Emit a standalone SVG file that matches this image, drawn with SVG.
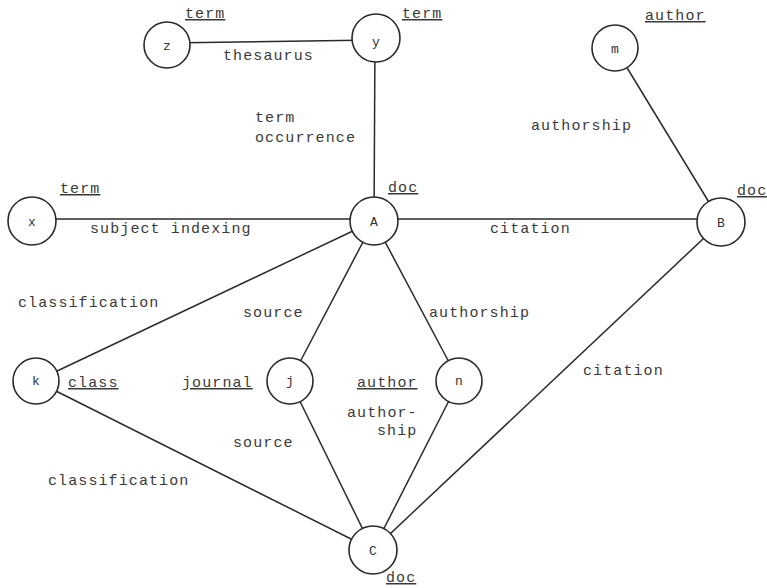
<svg xmlns="http://www.w3.org/2000/svg" width="767" height="588" viewBox="0 0 767 588">
<style>
.e{stroke:#2a2a2a;stroke-width:1.5;fill:none}
.n circle{fill:#fff;stroke:#2a2a2a;stroke-width:1.6}
.n text{font-family:"Liberation Mono","DejaVu Sans Mono",monospace;font-size:13px;fill:#333;text-anchor:middle}
.t{font-family:"Liberation Mono","DejaVu Sans Mono",monospace;font-size:15px;letter-spacing:1.1px;fill:#3a3a3a}
.u{text-decoration:underline}
</style>
<rect width="767" height="588" fill="#fff"/>
<g id="connectors">
<line class="e" x1="167" y1="43" x2="376" y2="40"/>
<line class="e" x1="375" y1="38" x2="374" y2="221"/>
<line class="e" x1="32" y1="219" x2="374" y2="219"/>
<line class="e" x1="374" y1="219" x2="721" y2="219"/>
<line class="e" x1="615" y1="48" x2="721" y2="222"/>
<line class="e" x1="374" y1="221" x2="36" y2="381"/>
<line class="e" x1="374" y1="221" x2="290" y2="381"/>
<line class="e" x1="374" y1="221" x2="459" y2="381"/>
<line class="e" x1="36" y1="381" x2="373" y2="550"/>
<line class="e" x1="290" y1="381" x2="373" y2="550"/>
<line class="e" x1="459" y1="381" x2="373" y2="550"/>
<line class="e" x1="721" y1="222" x2="373" y2="550"/>
</g>
<g id="node-z" class="n"><circle cx="167" cy="45" r="23"/><text x="167" y="50">z</text></g>
<g id="node-y" class="n"><circle cx="376" cy="38" r="24"/><text x="376" y="46">y</text></g>
<g id="node-m" class="n"><circle cx="615" cy="48" r="23"/><text x="615" y="53">m</text></g>
<g id="node-x" class="n"><circle cx="32" cy="221" r="24"/><text x="32" y="226">x</text></g>
<g id="node-A" class="n"><circle cx="374" cy="221" r="24"/><text x="374" y="226">A</text></g>
<g id="node-B" class="n"><circle cx="721" cy="222" r="24"/><text x="721" y="227">B</text></g>
<g id="node-k" class="n"><circle cx="36" cy="381" r="23"/><text x="36" y="385">k</text></g>
<g id="node-j" class="n"><circle cx="290" cy="381" r="23"/><text x="290" y="385">j</text></g>
<g id="node-n" class="n"><circle cx="459" cy="381" r="23"/><text x="459" y="385">n</text></g>
<g id="node-C" class="n"><circle cx="373" cy="550" r="24"/><text x="373" y="555">C</text></g>
<g id="labels">
<text class="t u" x="185" y="18">term</text>
<text class="t u" x="402" y="18">term</text>
<text class="t u" x="645" y="20">author</text>
<text class="t" x="223" y="60">thesaurus</text>
<text class="t" x="255" y="122">term</text>
<text class="t" x="255" y="142">occurrence</text>
<text class="t" x="531" y="130">authorship</text>
<text class="t u" x="388" y="192">doc</text>
<text class="t u" x="737" y="195">doc</text>
<text class="t u" x="60" y="193">term</text>
<text class="t" x="90" y="233">subject indexing</text>
<text class="t" x="490" y="233">citation</text>
<text class="t" x="18" y="307">classification</text>
<text class="t" x="243" y="317">source</text>
<text class="t" x="429" y="317">authorship</text>
<text class="t u" x="68" y="387">class</text>
<text class="t u" x="182" y="387">journal</text>
<text class="t u" x="357" y="387">author</text>
<text class="t" x="583" y="375">citation</text>
<text class="t" x="347" y="417">author-</text>
<text class="t" x="377" y="435">ship</text>
<text class="t" x="233" y="447">source</text>
<text class="t" x="48" y="485">classification</text>
<text class="t u" x="386" y="582">doc</text>
</g>
</svg>
